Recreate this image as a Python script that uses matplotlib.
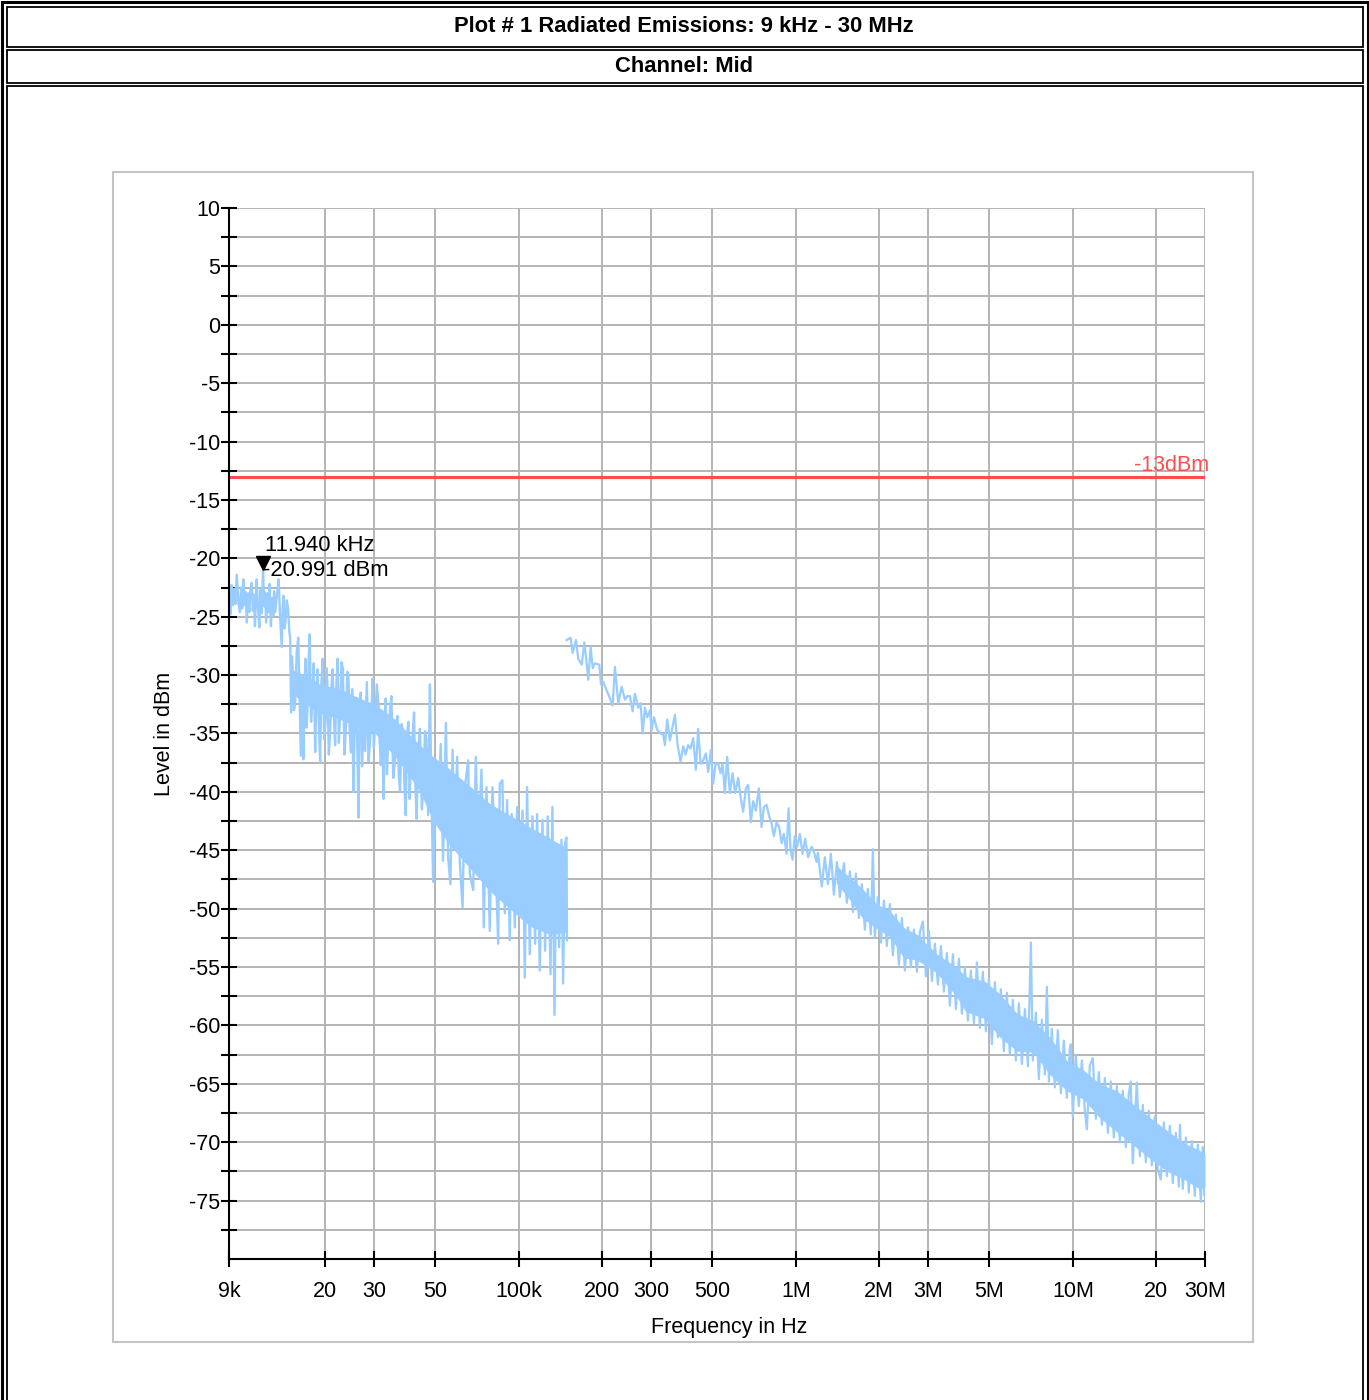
import numpy as np
import matplotlib
matplotlib.use("Agg")
import matplotlib.pyplot as plt
from matplotlib import font_manager
from matplotlib.patches import Rectangle
from matplotlib.transforms import offset_copy
from matplotlib.ticker import FixedLocator, FixedFormatter, NullLocator

# --- data (frequency in kHz, level in dBm) ---
# segment 1: 9 kHz .. 150 kHz (spiky trace)
seg1_khz = [9.0, 9.1, 9.2, 9.3, 9.4, 9.5, 9.6, 9.73, 9.86, 9.95,
            10.04, 10.14, 10.25, 10.34, 10.43, 10.55, 10.65, 10.76, 10.87, 10.97,
            11.07, 11.17, 11.25, 11.33, 11.45, 11.58, 11.7, 11.82, 11.94, 12.06,
            12.15, 12.25, 12.4, 12.5, 12.6, 12.75, 12.9, 13.0, 13.09, 13.2,
            13.31, 13.45, 13.6, 13.75, 13.95, 14.05, 14.15, 14.28, 14.4, 14.55,
            14.71, 14.85, 14.96,
            15.08, 15.19, 15.3, 15.45, 15.6, 15.8, 16.0, 16.17, 16.35, 16.52,
            16.7, 16.85, 17.0, 17.15, 17.3, 17.45, 17.6, 17.8, 18.0, 18.2,
            18.42, 18.6, 18.8, 19.0, 19.2, 19.4, 19.6, 19.85, 20.1, 20.25,
            20.4, 20.63, 20.86, 21.08, 21.3, 21.52, 21.74, 21.97, 22.2, 22.43,
            22.67, 22.93, 23.2, 23.5, 23.8, 24.05, 24.3, 24.55, 24.8, 25.05,
            25.3, 25.6, 25.9, 26.15, 26.4, 26.65, 26.9, 27.2, 27.5, 27.9,
            28.3, 28.7, 29.1, 29.4, 29.7, 30.0, 30.3, 30.75, 31.2, 31.5,
            31.8, 32.15, 32.5, 32.8, 33.1, 33.45, 33.8, 34.25, 34.7, 35.25,
            35.8, 36.15, 36.5, 36.9, 37.3, 37.8, 38.3, 38.7, 39.1, 39.55,
            40.0, 40.35, 40.7, 41.3, 41.9, 42.35, 42.8, 43.4, 44.0, 44.7,
            45.4, 45.9, 46.4, 47.1, 47.8, 48.25, 48.7,
            49.1, 50.2, 51.2, 52.3, 53.3, 54.6, 55.6, 56.7, 57.7, 58.8,
            59.9, 61.3, 62.7, 63.9, 65.7, 66.6, 68.5, 70.0, 71.3, 73.4,
            74.8, 76.5, 78.6, 80.4, 82.7, 84.3, 85.4, 87.3, 89.1, 90.8,
            92.8, 94.3, 96.8, 98.7, 100.9, 103.2, 105.2, 107.2, 109.6, 112.1,
            114.6, 116.5, 119.1, 121.8, 124.5, 127.3, 130.2, 132.3, 134.6, 136.8,
            139.9, 142.7, 144.6, 147.0, 148.6, 149.3]
seg1_db = [-22.9, -24.8, -22.3, -24.0, -22.6, -23.9, -21.4, -23.8, -24.6, -22.5,
           -24.3, -21.8, -24.0, -22.9, -25.5, -23.0, -24.6, -22.6, -22.1, -24.5,
           -23.1, -25.8, -23.4, -21.8, -24.2, -25.9, -22.7, -24.7, -21.0, -24.1,
           -22.9, -25.5, -23.0, -24.6, -22.2, -25.8, -23.4, -24.9, -22.8, -24.6,
           -23.8, -22.9, -21.8, -24.9, -27.6, -24.2, -23.2, -26.0, -25.3, -23.6,
           -24.4, -26.2, -26.8,
           -33.2, -28.4, -29.8, -33.0, -32.3, -28.0, -26.8, -31.5, -36.9, -30.5,
           -37.2, -31.0, -28.6, -34.5, -32.6, -28.8, -26.5, -34.0, -32.0, -29.0,
           -36.6, -31.8, -29.5, -34.6, -37.5, -30.6, -28.6, -35.5, -33.8, -29.4,
           -30.9, -36.8, -34.9, -31.0, -29.5, -33.4, -36.0, -30.8, -28.6, -35.8,
           -33.2, -28.9, -29.5, -36.8, -34.3, -29.7, -30.3, -34.8, -36.6, -31.2,
           -40.0, -33.5, -32.0, -36.5, -42.2, -32.3, -31.5, -37.8, -33.8, -36.5,
           -30.6, -37.4, -35.5, -33.0, -30.3, -36.2, -34.3, -30.8, -32.6, -35.9,
           -37.7, -33.8, -40.6, -35.2, -32.0, -38.5, -35.5, -33.1, -31.8, -38.8,
           -37.2, -34.0, -33.5, -38.6, -40.0, -34.2, -34.9, -39.8, -42.0, -35.0,
           -34.0, -40.6, -38.3, -35.6, -33.2, -39.4, -42.3, -36.2, -34.6, -41.5,
           -38.9, -34.8, -35.5, -42.0, -30.8, -38.0, -42.9,
           -47.7, -37.3, -42.4, -35.9, -45.9, -34.1, -45.6, -47.9, -36.4, -44.7,
           -37.0, -46.1, -49.9, -39.6, -37.3, -47.0, -48.4, -37.0, -44.7, -38.1,
           -51.6, -39.6, -51.9, -39.6, -46.7, -53.0, -39.3, -39.0, -50.4, -40.7,
           -52.7, -41.9, -51.6, -41.3, -47.0, -41.6, -55.9, -39.6, -53.9, -42.1,
           -53.0, -41.9, -55.3, -42.4, -53.6, -42.1, -55.6, -41.3, -59.1, -44.7,
           -53.3, -44.1, -56.4, -44.4, -43.9, -52.7]

# dense core of segment 1 (from 15 kHz on)
seg1_core_khz = [15.1, 17.0, 19.2, 22.7, 26.8, 30.3, 35.8, 40.0, 44.0, 49.2,
                 56.0, 66.6, 78.6, 92.8, 109.6, 130.0, 149.2]
seg1_core_hi = [-29.5, -30.0, -30.8, -31.2, -32.0, -32.5, -33.8, -35.0, -36.0, -37.0,
                -38.0, -39.5, -41.0, -42.0, -43.0, -44.0, -44.8]
seg1_core_lo = [-31.5, -32.5, -33.2, -33.8, -34.5, -35.0, -37.0, -38.5, -40.0, -42.5,
                -44.5, -46.5, -48.5, -50.0, -51.5, -52.2, -52.0]

# segment 2: 150 kHz .. 30 MHz
seg2_khz = [148.7, 153.9, 156.5, 160.9, 164.0, 168.8, 172.5, 175.9, 178.2, 181.8,
            184.9, 188.4, 195.3, 198.1, 202.0, 207.7, 213.5, 218.3, 222.5, 228.7,
            235.2, 241.8, 246.5, 252.0, 257.7, 262.7, 270.0, 275.4, 280.0, 285.4,
            290.9, 297.5, 301.7, 307.6, 316.1, 325.2, 332.3, 337.0, 343.5, 351.3,
            359.3, 366.2, 374.5, 383.9, 392.3, 400.2, 409.0, 417.2, 426.3, 435.9,
            444.3, 453.3, 463.2, 473.7, 482.9, 493.8, 503.3, 513.5, 524.7, 535.2,
            544.2, 554.7, 565.4, 578.2, 591.3, 604.2, 619.5, 631.9, 645.8, 660.3,
            673.1, 688.4, 701.7, 717.6, 735.7, 752.4, 767.0, 784.4, 801.6, 817.6,
            833.4, 852.3, 871.0, 888.5, 905.7, 926.2, 941.8, 957.5, 973.6, 992.4,
            1011.6, 1034.5, 1058.0, 1081.1, 1108.4, 1140.2, 1162.2, 1188.5,
            1201, 1242, 1273, 1306, 1339, 1373, 1408, 1443, 1492, 1529,
            1568, 1608, 1648, 1690, 1732, 1776, 1821, 1866, 1898, 1929,
            1979, 2029, 2080, 2132, 2186, 2241, 2298, 2356, 2416, 2477,
            2540, 2603, 2669, 2737, 2806, 2877, 2949, 3024, 3100, 3178,
            3258, 3341, 3425, 3511, 3600, 3691, 3784, 3880, 3977, 4078,
            4181, 4286, 4395, 4505, 4619, 4735, 4855, 4978, 5103, 5232,
            5364, 5499, 5638, 5780, 5926, 6075, 6229, 6387, 6548, 6713,
            6883, 7056, 7174, 7356, 7542, 7732, 7927, 8061, 8196, 8402,
            8614, 8831, 9053, 9281, 9516, 9756, 9837, 10000, 10250, 10510,
            10780, 11050, 11240, 11520, 11810, 12110, 12420, 12730, 13050, 13380,
            13710, 14060, 14420, 14780, 15150, 15530, 15930, 16190, 16460, 16880,
            17020, 17450, 17890, 18340, 18800, 19280, 19760, 20270, 20780, 21310,
            21840, 22390, 22950, 23540, 24140, 24340, 24950, 25580, 26220, 26880,
            27560, 28270, 28980, 29460, 29900, 30000]
seg2_db = [-27.0, -26.8, -28.1, -27.0, -28.6, -29.1, -27.2, -29.0, -30.4, -27.6,
           -29.4, -29.0, -29.1, -30.8, -30.6, -31.3, -32.0, -32.6, -29.3, -32.4,
           -31.0, -32.1, -31.8, -31.8, -33.1, -31.6, -32.8, -32.4, -35.0, -32.8,
           -33.6, -33.0, -34.7, -33.6, -34.7, -35.0, -35.1, -36.0, -33.8, -35.6,
           -34.4, -33.4, -36.0, -37.4, -36.1, -36.8, -36.0, -36.3, -35.4, -38.1,
           -34.6, -37.6, -37.3, -36.7, -38.3, -36.4, -39.3, -37.6, -37.6, -38.4,
           -37.6, -40.1, -37.0, -40.1, -38.4, -40.1, -38.8, -40.4, -41.7, -39.7,
           -39.4, -42.6, -40.8, -41.6, -39.7, -43.0, -41.3, -41.1, -42.1, -42.7,
           -43.8, -42.6, -43.0, -44.4, -43.6, -45.3, -41.4, -45.0, -45.8, -43.8,
           -44.7, -43.6, -45.3, -44.0, -45.6, -44.7, -45.1, -46.0,
           -45.2, -48.1, -45.6, -47.9, -45.3, -48.8, -46.0, -49.0, -46.1, -49.5,
           -46.8, -50.3, -47.0, -50.8, -47.9, -51.8, -48.3, -52.2, -44.9, -52.5,
           -49.0, -52.9, -49.3, -53.2, -49.6, -54.0, -50.5, -54.8, -50.8, -55.3,
           -51.6, -55.0, -51.8, -55.4, -52.0, -51.1, -55.8, -51.9, -56.2, -53.0,
           -56.5, -53.2, -57.1, -53.8, -58.3, -53.9, -58.6, -54.3, -59.0, -55.0,
           -59.6, -55.3, -59.8, -54.6, -60.2, -55.4, -60.5, -56.0, -61.6, -56.3,
           -61.0, -56.9, -62.2, -57.2, -62.5, -57.8, -63.0, -58.1, -63.3, -58.6,
           -63.5, -52.9, -63.0, -58.9, -64.6, -59.5, -64.2, -56.7, -64.8, -60.3,
           -65.3, -60.4, -65.8, -61.3, -66.2, -62.0, -61.6, -67.8, -62.5, -66.9,
           -63.0, -67.3, -68.9, -63.4, -62.8, -68.0, -64.0, -68.5, -64.5, -69.2,
           -64.8, -69.6, -65.2, -70.0, -65.6, -70.4, -65.8, -64.8, -71.8, -66.5,
           -64.9, -71.2, -66.8, -71.7, -67.3, -72.0, -67.8, -72.3, -73.2, -68.3,
           -72.9, -68.6, -73.5, -69.2, -73.8, -68.5, -74.0, -69.6, -74.3, -69.9,
           -74.6, -70.2, -75.1, -70.4, -74.6, -71.5]

# dense core of segment 2
seg2_core_khz = [1400, 1600, 1740, 1960, 2190, 2450, 2740, 3230, 3800, 4100,
                 4800, 5450, 6300, 7200, 8260, 9500, 10900, 12500, 14400, 19000,
                 21900, 25300, 28700, 30000]
seg2_core_hi = [-46.3, -47.5, -48.3, -49.6, -50.2, -51.6, -52.2, -53.9, -55.0, -55.8,
                -56.2, -57.3, -59.0, -59.6, -61.0, -63.0, -63.8, -65.0, -65.6, -67.9,
                -69.0, -70.1, -70.7, -71.0]
seg2_core_lo = [-47.8, -49.5, -50.8, -51.7, -52.4, -54.2, -54.4, -55.5, -57.5, -58.8,
                -59.4, -61.0, -62.2, -62.3, -64.2, -65.6, -66.3, -67.9, -69.1, -71.4,
                -72.5, -73.2, -74.0, -73.8]

limit_db = -13
marker_khz = 11.94
marker_db = -20.991

x_ticks_hz = [9e3, 20e3, 30e3, 50e3, 100e3, 200e3, 300e3, 500e3,
              1e6, 2e6, 3e6, 5e6, 10e6, 20e6, 30e6]
x_tick_labels = ['9k', '20', '30', '50', '100k', '200', '300', '500',
                 '1M', '2M', '3M', '5M', '10M', '20', '30M']
y_major = list(range(-75, 11, 5))
y_minor = [v + 2.5 for v in range(-80, 10, 5)]

BLUE = '#99ccff'
RED = '#ff4d4d'
GRID = '#b4b4b4'

plt.rcParams['font.family'] = ['Liberation Sans', 'DejaVu Sans']
plt.rcParams['axes.unicode_minus'] = False
names = {f.name for f in font_manager.fontManager.ttflist}
if 'Liberation Sans Narrow' in names:
    head_font, head_size = ['Liberation Sans Narrow', 'DejaVu Sans'], 18.5
else:
    head_font, head_size = ['Liberation Sans', 'DejaVu Sans'], 15.8

W, H = 1369, 1400
fig = plt.figure(figsize=(W / 100, H / 100), dpi=100)


def fx(px):
    return px / W


def fy(py):
    return 1 - py / H


def box(x0, y0, x1, y1, lw, ec='black', fc='none', z=-2):
    fig.add_artist(Rectangle((fx(x0), fy(y1)), fx(x1) - fx(x0), fy(y0) - fy(y1),
                             transform=fig.transFigure, lw=lw, ec=ec, fc=fc, zorder=z))


# page frame (table-like double borders)
box(1.5, 1.5, 1367.5, 1420, 2.2)
box(6.5, 6.5, 1362.5, 47, 1.3)
box(6.5, 50, 1362.5, 82.5, 1.3)
box(6.5, 86, 1362.5, 1420, 1.3)
# chart panel
box(113, 172, 1253, 1342, 1.5, ec='#c4c4c4', fc='white', z=-1)

fig.text(fx(684), fy(27), 'Plot # 1 Radiated Emissions: 9 kHz - 30 MHz',
         ha='center', va='center', fontsize=head_size, fontweight='bold', family=head_font)
fig.text(fx(684), fy(67), 'Channel: Mid',
         ha='center', va='center', fontsize=head_size, fontweight='bold', family=head_font)

ax = fig.add_axes([fx(229), fy(1259), fx(1205) - fx(229), (1259 - 208) / H])
ax.set_xscale('log')
ax.set_xlim(9e3, 30e6)
ax.set_ylim(-80, 10)

for s in ('top', 'right'):
    ax.spines[s].set_visible(False)
for s in ('left', 'bottom'):
    ax.spines[s].set_linewidth(1.5)
    ax.spines[s].set_zorder(5)

ax.xaxis.set_major_locator(FixedLocator(x_ticks_hz))
ax.xaxis.set_major_formatter(FixedFormatter(x_tick_labels))
ax.xaxis.set_minor_locator(NullLocator())
ax.yaxis.set_major_locator(FixedLocator(y_major))
ax.yaxis.set_minor_locator(FixedLocator(y_minor))
ax.tick_params(which='both', direction='inout', length=11, width=1.5, color='black')
ax.tick_params(axis='x', labelsize=15.5, pad=10)
ax.tick_params(axis='y', labelsize=15.5, pad=1)

ax.set_axisbelow(True)
ax.grid(axis='y', which='both', color=GRID, lw=1.4)
ax.grid(axis='x', which='major', color=GRID, lw=1.4)

# traces
k = 1e3
ax.fill_between(np.array(seg1_core_khz) * k, seg1_core_lo, seg1_core_hi, color=BLUE, lw=0)
ax.plot(np.array(seg1_khz) * k, seg1_db, color=BLUE, lw=1.7)
ax.fill_between(np.array(seg2_core_khz) * k, seg2_core_lo, seg2_core_hi, color=BLUE, lw=0)
ax.plot(np.array(seg2_khz) * k, seg2_db, color=BLUE, lw=1.6)

# limit line
ax.axhline(limit_db, color=RED, lw=2.2, zorder=3)
ax.annotate('-13dBm', xy=(30e6, limit_db), xytext=(4, 11), textcoords='offset pixels',
            ha='right', va='center', color=RED, fontsize=15.5, annotation_clip=False)

# peak marker
tr = offset_copy(ax.transData, fig=fig, x=0, y=7, units='dots')
ax.plot([marker_khz * k], [marker_db], marker='v', ms=10, color='black', transform=tr,
        clip_on=False, zorder=6)
ax.annotate('11.940 kHz', xy=(marker_khz * k, marker_db), xytext=(2, 24),
            textcoords='offset pixels', ha='left', va='center', fontsize=15.8, zorder=6)
ax.annotate('-20.991 dBm', xy=(marker_khz * k, marker_db), xytext=(0, -1),
            textcoords='offset pixels', ha='left', va='center', fontsize=15.8, zorder=6)

ax.set_xlabel('Frequency in Hz', fontsize=15.5, va='center')
ax.xaxis.set_label_coords((729 - 229) / 976, -(1327 - 1259) / 1051)
ax.set_ylabel('Level in dBm', fontsize=15.5, va='center')
ax.yaxis.set_label_coords((165 - 229) / 976, 0.5)

fig.savefig('out.png', dpi=100)
